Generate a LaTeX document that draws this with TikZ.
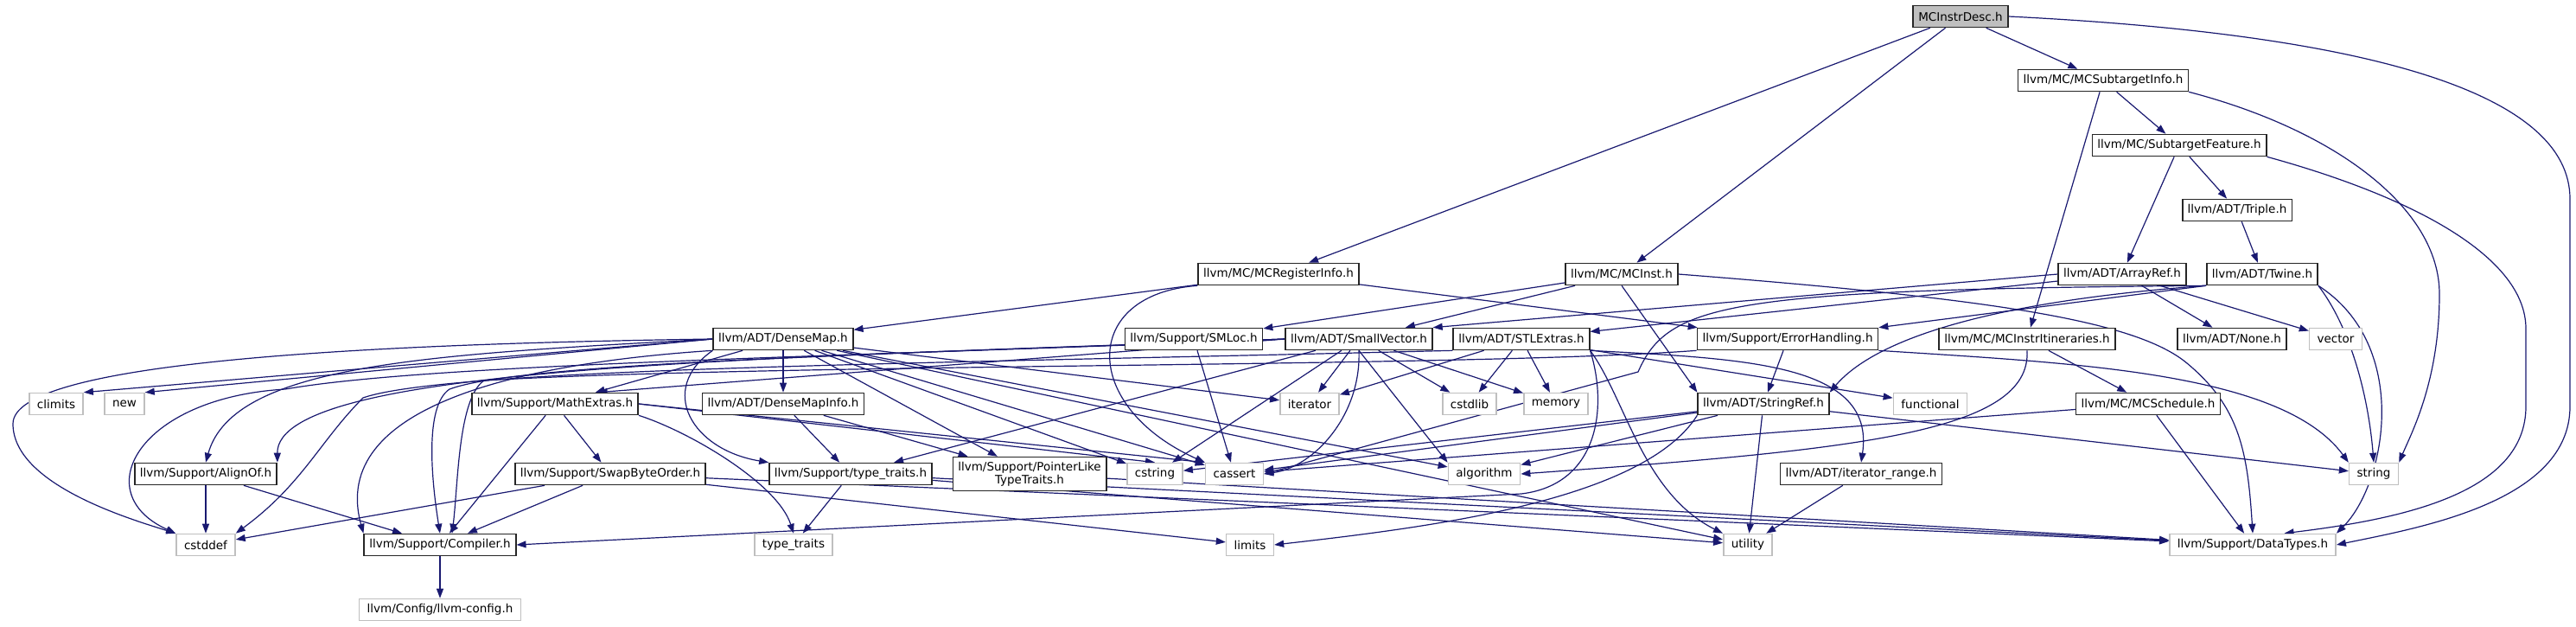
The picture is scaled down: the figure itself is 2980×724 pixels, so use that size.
\documentclass[tikz,border=0pt]{standalone}
\usepackage{fontspec}
\setmainfont{DejaVu Sans}
\usetikzlibrary{arrows.meta}
\definecolor{edgeblue}{HTML}{191970}
\definecolor{sysgray}{HTML}{BFBFBF}
\pgfdeclarelayer{edges}
\pgfsetlayers{edges,main}

\begin{document}
\begin{tikzpicture}[x=1pt, y=1pt,
  hdr/.style={draw=black!85, fill=white, line width=1.6pt, inner xsep=6pt, inner ysep=0pt,
    minimum height=25pt, font=\fontsize{13.5}{15}\selectfont},
  sys/.style={hdr, draw=sysgray, inner xsep=9pt},
  dep/.style={draw=edgeblue, line width=1.2pt, -{Triangle[length=11pt,width=8pt]}}]
  \useasboundingbox (0,0) rectangle (2980,-724);

  % headers, row by row
  \node[hdr, fill=sysgray] (desc) at (2268,-19) {MCInstrDesc.h};
  \node[hdr] (subinfo) at (2433,-93) {llvm/MC/MCSubtargetInfo.h};
  \node[hdr] (subfeat) at (2521,-168) {llvm/MC/SubtargetFeature.h};
  \node[hdr] (triple) at (2588,-243) {llvm/ADT/Triple.h};
  \node[hdr] (reginfo) at (1479,-317) {llvm/MC/MCRegisterInfo.h};
  \node[hdr] (mcinst) at (1876,-317) {llvm/MC/MCInst.h};
  \node[hdr] (arrayref) at (2455,-317) {llvm/ADT/ArrayRef.h};
  \node[hdr] (twine) at (2617,-317) {llvm/ADT/Twine.h};
  \node[hdr] (densemap) at (906,-392) {llvm/ADT/DenseMap.h};
  \node[hdr] (smloc) at (1381,-392) {llvm/Support/SMLoc.h};
  \node[hdr] (smallvec) at (1572,-392) {llvm/ADT/SmallVector.h};
  \node[hdr] (stlextras) at (1760,-392) {llvm/ADT/STLExtras.h};
  \node[hdr] (errh) at (2068,-392) {llvm/Support/ErrorHandling.h};
  \node[hdr] (itin) at (2345,-392) {llvm/MC/MCInstrItineraries.h};
  \node[hdr] (none) at (2582,-392) {llvm/ADT/None.h};
  \node[sys] (vector) at (2702,-392) {vector};
  \node[sys] (climits) at (65,-467) {climits};
  \node[sys] (new) at (144,-467) {new};
  \node[hdr] (mathextras) at (642,-467) {llvm/Support/MathExtras.h};
  \node[hdr] (densemapinfo) at (906,-467) {llvm/ADT/DenseMapInfo.h};
  \node[sys] (iterator) at (1515,-467) {iterator};
  \node[sys] (cstdlib) at (1700,-467) {cstdlib};
  \node[sys] (memory) at (1800,-467) {memory};
  \node[hdr] (stringref) at (2040,-467) {llvm/ADT/StringRef.h};
  \node[sys] (functional) at (2233,-467) {functional};
  \node[hdr] (mcschedule) at (2485,-467) {llvm/MC/MCSchedule.h};
  \node[hdr] (alignof) at (238,-548) {llvm/Support/AlignOf.h};
  \node[hdr] (swapbyteorder) at (706,-548) {llvm/Support/SwapByteOrder.h};
  \node[hdr] (typetraits) at (984,-548) {llvm/Support/type\_traits.h};
  \node[hdr, align=center, minimum height=39pt] (ptrtraits) at (1191,-548) {llvm/Support/PointerLike\\TypeTraits.h};
  \node[sys] (cstring) at (1336,-548) {cstring};
  \node[sys] (cassert) at (1428,-548) {cassert};
  \node[sys] (algorithm) at (1717,-548) {algorithm};
  \node[hdr] (iterrange) at (2153,-548) {llvm/ADT/iterator\_range.h};
  \node[sys] (string) at (2746,-548) {string};
  \node[sys] (cstddef) at (238,-630) {cstddef};
  \node[hdr] (compiler) at (509,-630) {llvm/Support/Compiler.h};
  \node[sys] (stdtraits) at (918,-630) {type\_traits};
  \node[sys] (limits) at (1446,-630) {limits};
  \node[sys] (utility) at (2022,-630) {utility};
  \node[sys] (datatypes) at (2606,-630) {llvm/Support/DataTypes.h};
  \node[sys] (llvmconfig) at (509,-705) {llvm/Config/llvm-config.h};

  \begin{pgfonlayer}{edges}
  % straight includes
  \foreach \src/\dst in {desc/reginfo, desc/mcinst, desc/subinfo,
      subinfo/subfeat, subinfo/itin, subfeat/arrayref, subfeat/triple, triple/twine,
      arrayref/none, arrayref/vector, arrayref/stlextras,
      reginfo/densemap, reginfo/errh, mcinst/smloc, mcinst/smallvec,
      itin/mcschedule, mcschedule/datatypes, mcschedule/cassert, smloc/cassert,
      densemap/densemapinfo, densemap/mathextras, densemap/ptrtraits, densemap/cassert,
      densemap/cstring, densemap/iterator, densemap/algorithm, densemap/utility,
      densemapinfo/ptrtraits, densemapinfo/typetraits,
      smallvec/iterator, smallvec/cstdlib, smallvec/memory, smallvec/cstring, smallvec/typetraits,
      stlextras/iterator, stlextras/cstdlib, stlextras/memory, stlextras/functional,
      errh/stringref, stringref/algorithm, stringref/cassert, stringref/cstring,
      stringref/utility, stringref/string, iterrange/utility,
      mathextras/compiler, mathextras/swapbyteorder,
      swapbyteorder/cstddef, swapbyteorder/compiler, swapbyteorder/limits, swapbyteorder/datatypes,
      typetraits/stdtraits, typetraits/datatypes, typetraits/utility, ptrtraits/datatypes,
      alignof/compiler, alignof/cstddef, compiler/llvmconfig}
    \draw[dep] (\src) -- (\dst);
  \draw[dep] (arrayref.west) -- (smallvec.north east);
  \draw[dep] (twine.south west) -- (errh.north east);
  \draw[dep] (mcinst.south) -- (stringref.north west);
  \draw[dep] (densemap.west) -- (climits.north east);
  \draw[dep] (densemap.west) -- (new.north east);
  \draw[dep] (mathextras.east) -- (cassert.north west);
  \draw[dep] (mathextras.east) -- (cstring.north);
  \draw[dep] (smallvec.west) -- (mathextras.15);

  % long routes on the right
  \draw[dep] (desc.east) .. controls (2750,-40) and (2973,-110) .. (2973,-230) -- (2973,-470)
    .. controls (2973,-580) and (2800,-610) .. (datatypes.east);
  \draw[dep] (subfeat.south east) .. controls (2800,-230) and (2922,-300) .. (2922,-380) -- (2922,-470)
    .. controls (2922,-570) and (2780,-600) .. (datatypes.20);
  \draw[dep] (subinfo.south east) .. controls (2700,-150) and (2822,-240) .. (2822,-340)
    .. controls (2822,-440) and (2790,-500) .. (string.north east);
  \draw[dep] (twine.south east) .. controls (2720,-380) and (2740,-460) .. (string.north);
  \draw[dep] (twine.south east) .. controls (2790,-400) and (2760,-560) .. (datatypes.north east);
  \draw[dep] (mcinst.east) .. controls (2300,-345) and (2470,-370) .. (2530,-420)
    .. controls (2590,-470) and (2600,-520) .. (datatypes.north);
  \draw[dep] (twine.south west) .. controls (2350,-345) and (2180,-380) .. (stringref.north east);
  \draw[dep] (twine.south west) .. controls (2000,-335) and (1930,-350) .. (1895,-430) -- (cassert.east);
  \draw[dep] (errh.south east) .. controls (2400,-420) and (2640,-430) .. (string.north west);
  \draw[dep] (itin.south) .. controls (2350,-500) and (2150,-520) .. (algorithm.east);
  \draw[dep] (stringref.south west) .. controls (1900,-580) and (1650,-610) .. (limits.east);
  \draw[dep] (stlextras.south east) .. controls (2020,-415) and (2170,-420) .. (iterrange.north);
  \draw[dep] (stlextras.south east) .. controls (1880,-460) and (1900,-570) .. (utility.north west);
  \draw[dep] (stlextras.south east) .. controls (1860,-470) and (1850,-560) .. (1760,-571) -- (compiler.east);
  \draw[dep] (reginfo.south west) .. controls (1250,-340) and (1250,-470) .. (cassert.north west);
  \draw[dep] (smallvec.south) .. controls (1575,-480) and (1520,-540) .. (cassert.east);
  \draw[dep] (smallvec.south) -- (algorithm.north west);

  % long routes on the left
  \draw[dep] (densemap.west) .. controls (400,-398) and (15,-420) .. (15,-490)
    .. controls (15,-560) and (150,-600) .. (cstddef.north west);
  \draw[dep] (densemap.west) .. controls (500,-410) and (270,-420) .. (alignof.north);
  \draw[dep] (densemap.south west) .. controls (600,-420) and (380,-470) .. (compiler.north west);
  \draw[dep] (densemap.south west) .. controls (760,-450) and (800,-520) .. (typetraits.north west);
  \draw[dep] (smallvec.west) .. controls (900,-415) and (320,-420) .. (alignof.north east);
  \draw[dep] (smallvec.west) .. controls (1000,-410) and (600,-420) .. (520,-450)
    .. controls (490,-470) and (500,-560) .. (compiler.north);
  \draw[dep] (smallvec.west) .. controls (1000,-412) and (500,-420) .. (330,-450)
    .. controls (160,-460) and (100,-570) .. (cstddef.north west);
  \draw[dep] (stlextras.south west) .. controls (1100,-420) and (520,-425) .. (420,-460)
    .. controls (370,-510) and (350,-560) .. (cstddef.north east);
  \draw[dep] (errh.south west) .. controls (1700,-425) and (900,-420) .. (560,-440)
    .. controls (530,-460) and (530,-560) .. ([xshift=14pt]compiler.north);
  \draw[dep] (mathextras.south east) .. controls (800,-500) and (900,-560) .. (stdtraits.north);
  \end{pgfonlayer}
\end{tikzpicture}
\end{document}
